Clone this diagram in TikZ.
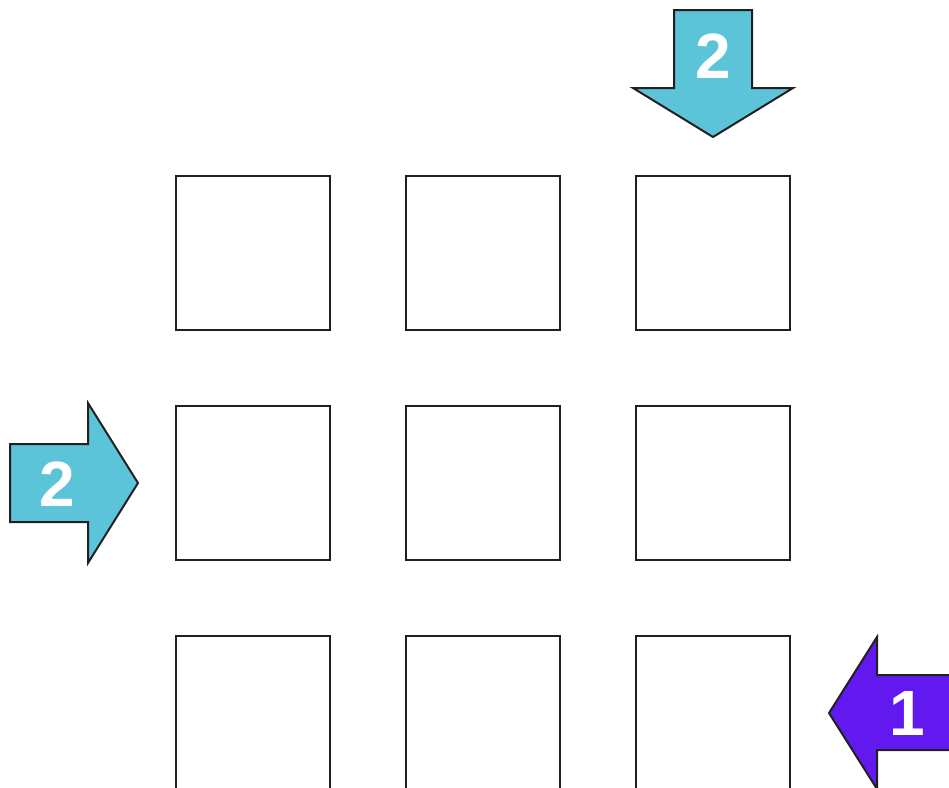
\documentclass[tikz,border=0pt]{standalone}
\usepackage{fontspec}
\setmainfont{Liberation Sans}
\usepackage{xcolor}
\definecolor{cellline}{HTML}{231F20}
\definecolor{cyanarrow}{HTML}{5BC4D8}
\definecolor{purplearrow}{HTML}{6119F0}
\begin{document}
\begin{tikzpicture}[x=1pt,y=-1pt,line join=miter]
  \useasboundingbox (0,0) rectangle (949,787);
  \clip (0,0) rectangle (949,787);
  % grid of cells
  \foreach \r [count=\i] in {253,483,713}{
    \foreach \c [count=\j] in {253,483,713}{
      \node[draw=cellline,line width=2pt,minimum size=154pt,inner sep=0pt] (cell\i\j) at (\c,\r) {};
    }
  }
  % arrows
  \filldraw[fill=cyanarrow,draw=cellline,line width=2pt]
    (674,10)--(752,10)--(752,88)--(793,88)--(713,137)--(633,88)--(674,88)--cycle;
  \filldraw[fill=cyanarrow,draw=cellline,line width=2pt]
    (10,444)--(88,444)--(88,403)--(138,483)--(88,563)--(88,522)--(10,522)--cycle;
  \filldraw[fill=purplearrow,draw=cellline,line width=2pt]
    (829,713)--(877,637)--(877,675)--(965,675)--(965,750)--(877,750)--(877,789)--cycle;
  \node[white,font=\bfseries\fontsize{64}{64}\selectfont] (numtop) at (713,56) {2};
  \node[white,font=\bfseries\fontsize{64}{64}\selectfont] (numleft) at (57,484) {2};
  \node[white,font=\bfseries\fontsize{64}{64}\selectfont] (numright) at (907,713) {1};
\end{tikzpicture}
\end{document}
